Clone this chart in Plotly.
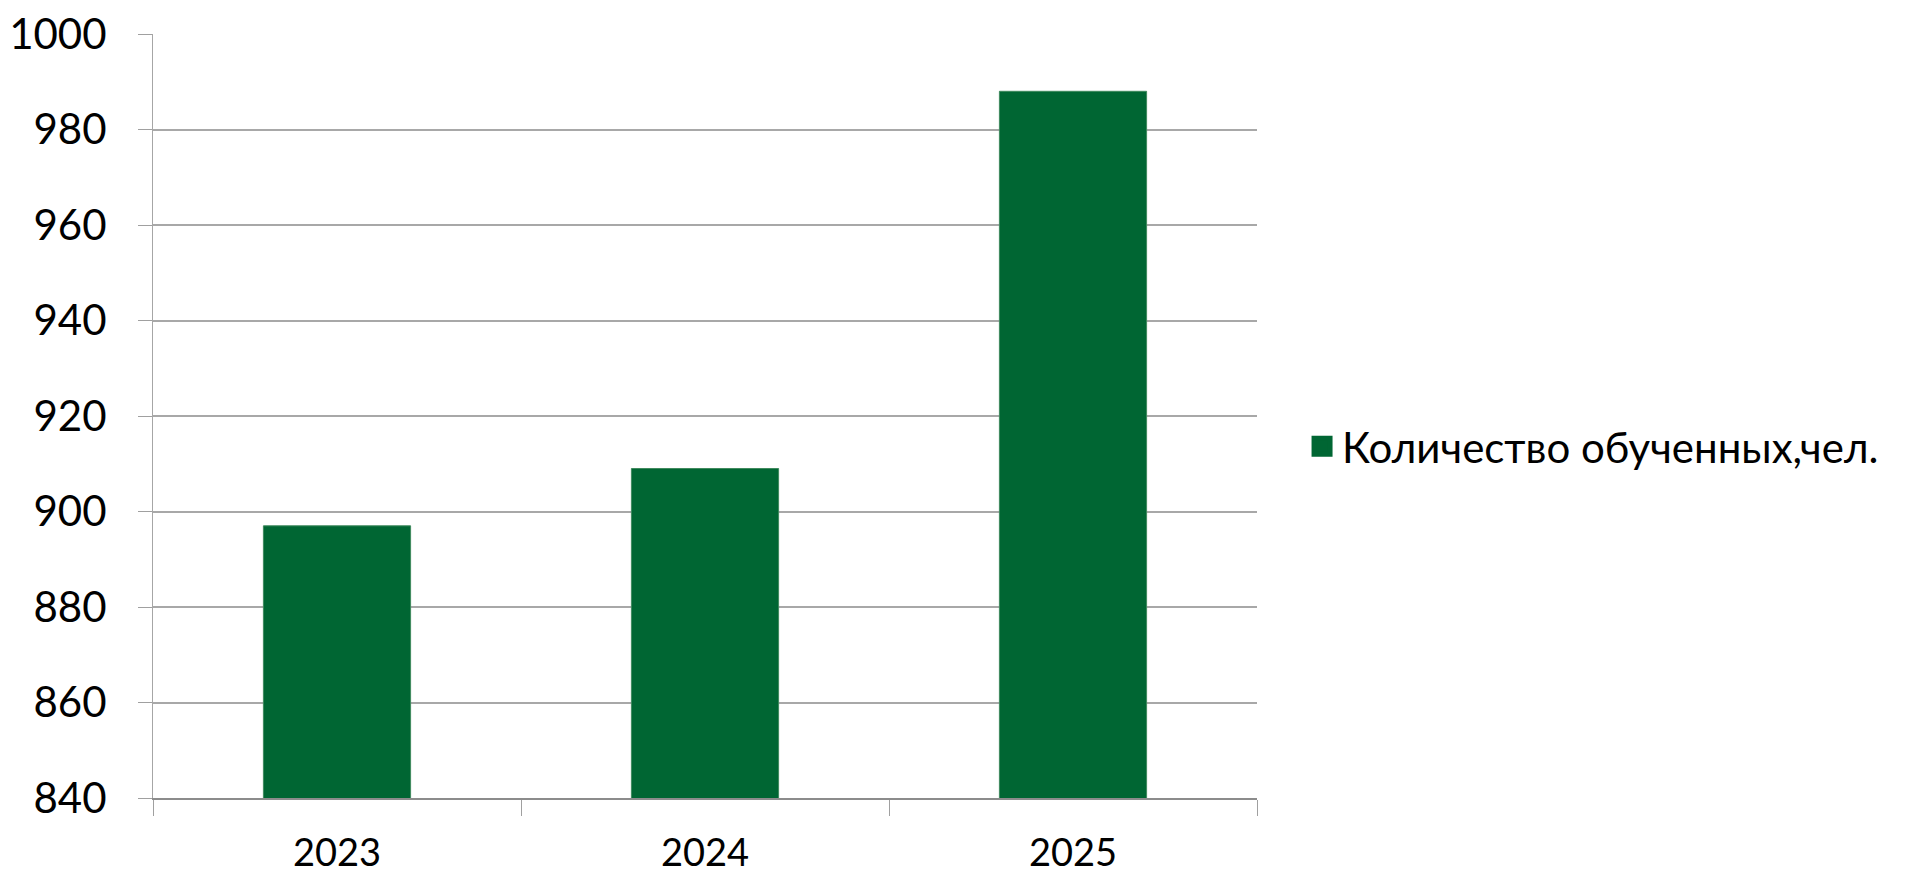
import plotly.graph_objects as go

years = ["2023", "2024", "2025"]
trained = [897, 909, 988]
series_name = "Количество обученных,чел."
y_ticks = [840, 860, 880, 900, 920, 940, 960, 980, 1000]
bar_color = "#006633"

fig = go.Figure()
fig.add_trace(go.Bar(
    x=years, y=trained, name=series_name,
    marker=dict(color=bar_color, line=dict(color="#3f8a5e", width=1)),
    showlegend=False,
))
# legend entry with a larger square swatch
fig.add_trace(go.Scatter(
    x=[None], y=[None], mode="markers", name=series_name,
    marker=dict(symbol="square", size=26, color=bar_color,
                line=dict(color=bar_color, width=5)),
    showlegend=True, hoverinfo="skip",
))

FONT = "Lato"
fig.update_layout(
    width=1910, height=881,
    margin=dict(l=145, r=661, t=26, b=91, autoexpand=False),
    plot_bgcolor="white", paper_bgcolor="white",
    bargap=0.6,
    font=dict(family=FONT, color="black", size=42),
    showlegend=True,
    legend=dict(x=1.0408, y=0.46, xanchor="left", yanchor="middle",
                font=dict(family=FONT, size=42, color="black"),
                bgcolor="rgba(0,0,0,0)"),
)
fig.update_xaxes(
    type="category", tickson="boundaries", automargin=False,
    ticks="outside", ticklen=16, tickcolor="#a0a0a0", tickwidth=1,
    showline=True, linecolor="#8c8c8c", linewidth=2,
    showgrid=False, ticklabelstandoff=20,
    tickfont=dict(family=FONT, size=38, color="black"),
)
fig.update_yaxes(
    range=[840, 1000], tickvals=y_ticks, automargin=False,
    ticks="outside", ticklen=14, tickcolor="#a0a0a0", tickwidth=1,
    showline=True, linecolor="#a6a6a6", linewidth=1,
    showgrid=True, gridcolor="#a8a8a8", gridwidth=1.5,
    zeroline=False, ticklabelstandoff=23, ticklabeloverflow="allow",
    tickfont=dict(family=FONT, size=42, color="black"),
)
fig.write_html("out.html")
